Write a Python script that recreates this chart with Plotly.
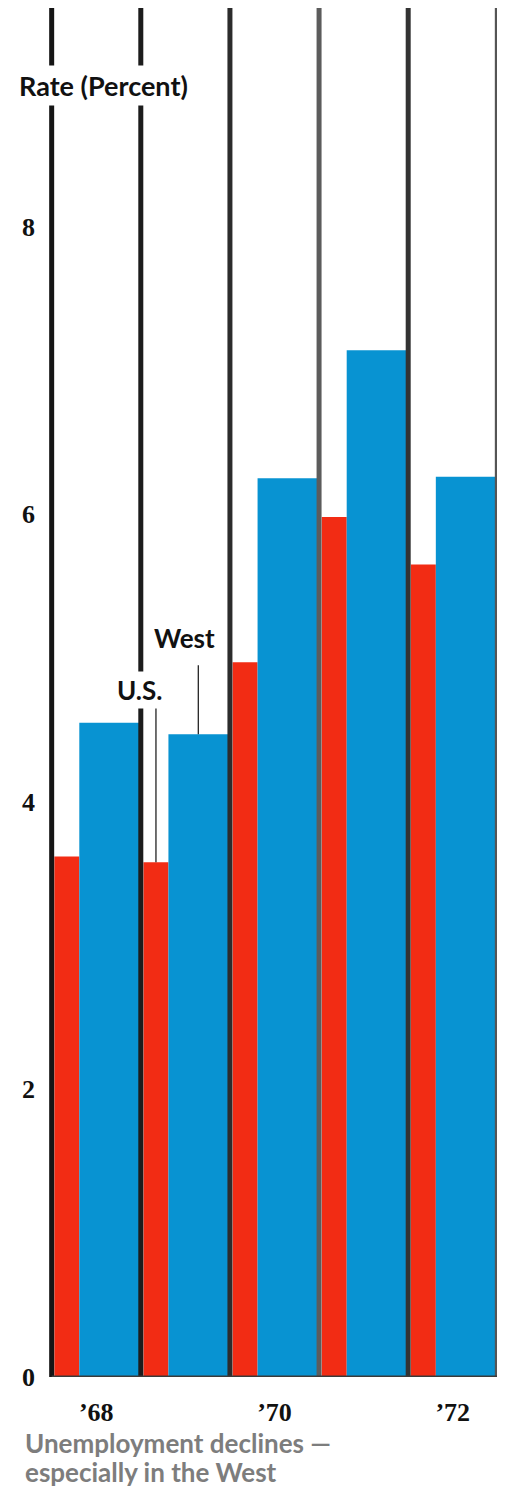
import plotly.graph_objects as go

# ---- data ----
years = ["1968", "1969", "1970", "1971", "1972"]
us_rate = [3.62, 3.58, 4.97, 5.98, 5.65]
west_rate = [4.55, 4.47, 6.25, 7.14, 6.26]
year_tick_pos = [0, 2, 4]
year_tick_text = ["’68", "’70", "’72"]
y_tick_vals = [0, 2, 4, 6, 8]

pos = list(range(len(years)))

RED = "#F22C14"
BLUE = "#0893D2"

US_OFF, US_W = -0.47, 0.28
W_OFF, W_W = -0.19, 0.67

fig = go.Figure()
fig.add_bar(x=pos, y=us_rate, offset=US_OFF, width=US_W,
            marker=dict(color=RED, line=dict(width=0)), name="U.S.")
fig.add_bar(x=pos, y=west_rate, offset=W_OFF, width=W_W,
            marker=dict(color=BLUE, line=dict(width=0)), name="West")

# group separator lines
sep_colors = ["#151515", "#1c1c1c", "#2c2c2c", "#5c5c5c", "#333333", "#555555"]
bounds = [p - 0.5 for p in pos] + [pos[-1] + 0.5]
for b, c in zip(bounds, sep_colors):
    fig.add_shape(type="line", xref="x", yref="paper", x0=b, x1=b, y0=0, y1=1,
                  line=dict(color=c, width=5), layer="above")

# baseline
fig.add_shape(type="line", xref="x", yref="y", x0=bounds[0], x1=bounds[-1], y0=0, y1=0,
              line=dict(color="#3a3a3a", width=3), layer="above")

# leader lines for series labels
west_x = pos[1] + W_OFF + W_W / 2
us_x = pos[1] + US_OFF + US_W / 2
fig.add_shape(type="line", xref="x", yref="y", x0=west_x, x1=west_x,
              y0=west_rate[1], y1=west_rate[1] + 0.48,
              line=dict(color="#111111", width=1.2), layer="above")
fig.add_shape(type="line", xref="x", yref="y", x0=us_x, x1=us_x,
              y0=us_rate[1], y1=us_rate[1] + 1.08,
              line=dict(color="#111111", width=1.2), layer="above")

sans = "Lato, 'Open Sans', sans-serif"
serif = "'Liberation Serif', 'DejaVu Serif', serif"

fig.add_annotation(x=0.084, y=8.98, xref="x", yref="y", showarrow=False,
                   text="<b>Rate (Percent)</b>", font=dict(family=sans, size=27, color="#111111"),
                   bgcolor="white", borderpad=3)
fig.add_annotation(x=0.49, y=4.78, xref="x", yref="y", showarrow=False,
                   text="<b>U.S.</b>", font=dict(family=sans, size=26, color="#111111"),
                   bgcolor="white", borderpad=2)
fig.add_annotation(x=0.99, y=5.14, xref="x", yref="y", showarrow=False,
                   text="<b>West</b>", font=dict(family=sans, size=26, color="#111111"),
                   bgcolor="white", borderpad=0)
fig.add_annotation(x=-0.058, y=-0.0485, xref="paper", yref="paper", showarrow=False,
                   xanchor="left", yanchor="middle", align="left",
                   text="<b>Unemployment declines —</b>",
                   font=dict(family=sans, size=26, color="#7d7d7d"))
fig.add_annotation(x=-0.058, y=-0.0695, xref="paper", yref="paper", showarrow=False,
                   xanchor="left", yanchor="middle", align="left",
                   text="<b>especially in the West</b>",
                   font=dict(family=sans, size=26, color="#7d7d7d"))

# page body has an 8px default margin; size the figure so it fits the 505x1488 window
fig.update_layout(
    width=497, height=1480,
    margin=dict(l=41, r=5, t=0, b=111),
    paper_bgcolor="white", plot_bgcolor="white",
    barmode="overlay", showlegend=False,
    xaxis=dict(range=[-0.53, 4.53], showgrid=False, zeroline=False, showline=False,
               automargin=False,
               tickmode="array", tickvals=year_tick_pos,
               ticktext=["<b>" + t + "</b>" for t in year_tick_text],
               tickfont=dict(family=serif, size=26, color="#111111"),
               ticks="", ticklabelstandoff=17),
    yaxis=dict(range=[0, 9.52], showgrid=False, zeroline=False, showline=False,
               automargin=False,
               tickmode="array", tickvals=y_tick_vals,
               ticktext=["<b>" + str(v) + "</b>" for v in y_tick_vals],
               tickfont=dict(family=serif, size=26, color="#111111"),
               ticks="", ticklabelstandoff=13),
)

fig.write_html("out.html")
